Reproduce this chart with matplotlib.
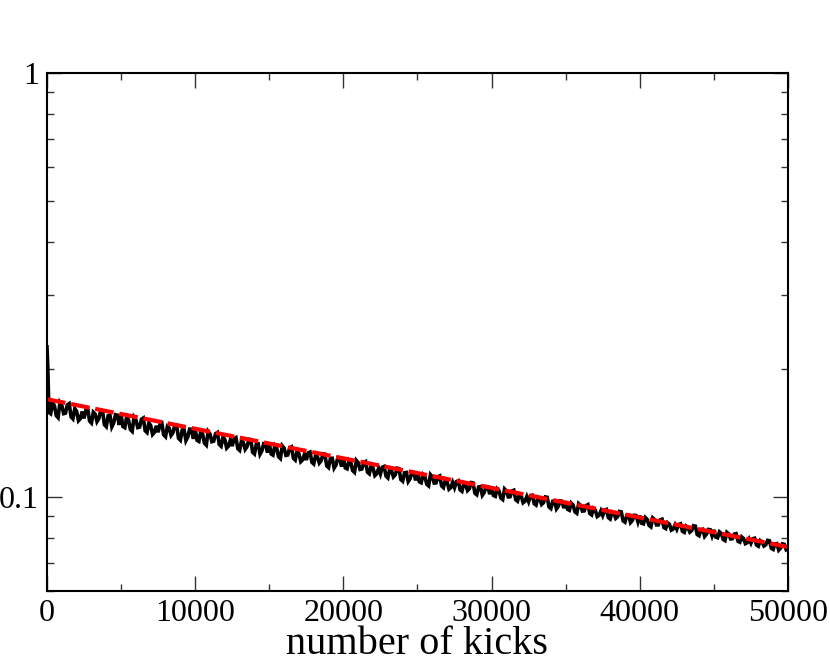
import matplotlib
matplotlib.use("Agg")
import matplotlib.pyplot as plt
from matplotlib.ticker import LogLocator, NullFormatter, FixedLocator, MultipleLocator

plt.rcParams['font.family'] = ['Liberation Serif', 'DejaVu Serif']

# initial spike
spike_x = [0, 50, 100, 150]
spike_y = [0.226, 0.205, 0.175, 0.158]

# noisy survival curve, samples every 250 kicks from 250 to 50000
noisy_y = [
    0.1571, 0.1643, 0.1538, 0.1645, 0.1576, 0.1660, 0.1528, 0.1592, 0.1530,
    0.1532, 0.1614, 0.1494, 0.1568, 0.1530, 0.1596, 0.1465, 0.1558, 0.1494, 0.1559,
    0.1564, 0.1457, 0.1521, 0.1428, 0.1521, 0.1461, 0.1535, 0.1419, 0.1474, 0.1420,
    0.1421, 0.1493, 0.1387, 0.1453, 0.1417, 0.1476, 0.1361, 0.1442, 0.1385, 0.1443,
    0.1446, 0.1352, 0.1408, 0.1325, 0.1408, 0.1354, 0.1419, 0.1317, 0.1366, 0.1318,
    0.1318, 0.1380, 0.1288, 0.1344, 0.1314, 0.1365, 0.1263, 0.1334, 0.1284, 0.1335,
    0.1338, 0.1255, 0.1303, 0.1232, 0.1304, 0.1256, 0.1312, 0.1222, 0.1265, 0.1223,
    0.1222, 0.1276, 0.1196, 0.1244, 0.1217, 0.1262, 0.1173, 0.1234, 0.1190, 0.1235,
    0.1236, 0.1165, 0.1206, 0.1143, 0.1205, 0.1164, 0.1212, 0.1134, 0.1171, 0.1134,
    0.1133, 0.1180, 0.1109, 0.1152, 0.1128, 0.1167, 0.1089, 0.1142, 0.1104, 0.1142,
    0.1143, 0.1080, 0.1117, 0.1062, 0.1116, 0.1079, 0.1121, 0.1052, 0.1084, 0.1052,
    0.1052, 0.1092, 0.1031, 0.1067, 0.1046, 0.1079, 0.1012, 0.1058, 0.1024, 0.1057,
    0.1057, 0.1003, 0.1034, 0.0986, 0.1033, 0.1001, 0.1037, 0.0977, 0.1005, 0.0977,
    0.0975, 0.1009, 0.0957, 0.0988, 0.0969, 0.0998, 0.0939, 0.0978, 0.0950, 0.0977,
    0.0977, 0.0930, 0.0957, 0.0915, 0.0955, 0.0927, 0.0959, 0.0907, 0.0930, 0.0905,
    0.0904, 0.0934, 0.0887, 0.0915, 0.0898, 0.0922, 0.0872, 0.0905, 0.0880, 0.0904,
    0.0904, 0.0864, 0.0885, 0.0850, 0.0884, 0.0859, 0.0886, 0.0842, 0.0862, 0.0840,
    0.0839, 0.0864, 0.0825, 0.0846, 0.0833, 0.0853, 0.0810, 0.0839, 0.0817, 0.0837,
    0.0836, 0.0801, 0.0820, 0.0789, 0.0818, 0.0797, 0.0819, 0.0782, 0.0798, 0.0780,
    0.0778, 0.0799, 0.0765, 0.0783, 0.0771, 0.0788, 0.0752, 0.0776, 0.0757, 0.0773,
    0.0756,
]
noisy_x = [250 * (i + 1) for i in range(len(noisy_y))]

# in-between samples, from 375 to 49875 kicks
mid_y = [
    0.1668, 0.1555, 0.1670, 0.1572, 0.1649, 0.1545, 0.1616, 0.1513, 0.1590,
    0.1603, 0.1510, 0.1584, 0.1505, 0.1599, 0.1481, 0.1554, 0.1463, 0.1563, 0.1479,
    0.1466, 0.1543, 0.1443, 0.1543, 0.1457, 0.1525, 0.1433, 0.1496, 0.1404, 0.1471,
    0.1483, 0.1402, 0.1466, 0.1397, 0.1479, 0.1375, 0.1439, 0.1358, 0.1445, 0.1371,
    0.1360, 0.1426, 0.1339, 0.1427, 0.1350, 0.1410, 0.1330, 0.1384, 0.1304, 0.1363,
    0.1372, 0.1300, 0.1357, 0.1295, 0.1367, 0.1275, 0.1331, 0.1261, 0.1336, 0.1272,
    0.1263, 0.1321, 0.1244, 0.1320, 0.1253, 0.1305, 0.1234, 0.1282, 0.1211, 0.1262,
    0.1270, 0.1207, 0.1255, 0.1202, 0.1264, 0.1184, 0.1233, 0.1170, 0.1237, 0.1179,
    0.1171, 0.1220, 0.1154, 0.1219, 0.1161, 0.1206, 0.1144, 0.1186, 0.1123, 0.1168,
    0.1175, 0.1120, 0.1162, 0.1115, 0.1169, 0.1099, 0.1140, 0.1087, 0.1144, 0.1094,
    0.1086, 0.1129, 0.1071, 0.1129, 0.1078, 0.1116, 0.1062, 0.1097, 0.1043, 0.1082,
    0.1087, 0.1039, 0.1076, 0.1035, 0.1081, 0.1020, 0.1056, 0.1009, 0.1058, 0.1015,
    0.1008, 0.1045, 0.0994, 0.1044, 0.1000, 0.1033, 0.0985, 0.1015, 0.0969, 0.1002,
    0.1006, 0.0964, 0.0996, 0.0960, 0.1000, 0.0947, 0.0977, 0.0937, 0.0979, 0.0941,
    0.0935, 0.0967, 0.0922, 0.0964, 0.0926, 0.0954, 0.0914, 0.0939, 0.0899, 0.0927,
    0.0930, 0.0894, 0.0921, 0.0890, 0.0924, 0.0878, 0.0905, 0.0870, 0.0905, 0.0873,
    0.0867, 0.0894, 0.0857, 0.0892, 0.0859, 0.0883, 0.0847, 0.0869, 0.0835, 0.0859,
    0.0861, 0.0830, 0.0853, 0.0826, 0.0855, 0.0815, 0.0837, 0.0807, 0.0838, 0.0810,
    0.0804, 0.0827, 0.0794, 0.0825, 0.0796, 0.0817, 0.0786, 0.0805, 0.0776, 0.0796,
    0.0797, 0.0770, 0.0789, 0.0766, 0.0790, 0.0757, 0.0775, 0.0749, 0.0775, 0.0751,
]
mid_x = [375 + 250 * i for i in range(len(mid_y))]

# exponential fit (straight on the log axis)
fit_x = [0, 50000]
fit_y = [0.170, 0.0762]

pts = sorted(zip(spike_x + noisy_x + mid_x, spike_y + noisy_y + mid_y))
curve_x = [p[0] for p in pts]
curve_y = [p[1] for p in pts]

fig = plt.figure(figsize=(8.3, 6.62), dpi=100)
ax = fig.add_axes([0.0566, 0.1073, 0.8928, 0.7824])

ax.plot(curve_x, curve_y, color='black', lw=2.6, solid_joinstyle='miter')
ax.plot(fit_x, fit_y, color='#ff0000', lw=3.0, dashes=(4.5, 1.4))

ax.set_yscale('log')
ax.set_xlim(0, 50000)
ax.set_ylim(0.06, 1)

ax.xaxis.set_major_locator(MultipleLocator(10000))
ax.xaxis.set_minor_locator(MultipleLocator(5000))
ax.yaxis.set_major_locator(FixedLocator([0.1, 1]))
ax.yaxis.set_major_formatter(plt.FuncFormatter(lambda v, p: '1' if v >= 1 else '0.1'))
ax.yaxis.set_minor_locator(LogLocator(base=10, subs=[2, 3, 4, 5, 6, 7, 8, 9]))
ax.yaxis.set_minor_formatter(NullFormatter())

ax.tick_params(which='both', direction='in', top=True, right=True, labelsize=23, width=1.0, color='#333333')
ax.tick_params(which='major', length=10.5, pad=6)
ax.tick_params(which='minor', length=5.3)
for s in ax.spines.values():
    s.set_linewidth(1.5)

ax.set_xlabel('number of kicks', fontsize=29, labelpad=-2)

fig.savefig('out.png', dpi=100)
plt.close(fig)
